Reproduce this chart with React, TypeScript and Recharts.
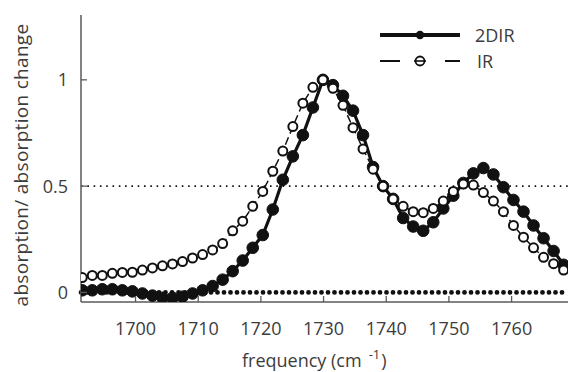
import React from 'react';
import { LineChart, Line, XAxis, YAxis, ReferenceLine, Legend, Label } from 'recharts';

const frequency = [
  1691.5, 1693.1, 1694.7, 1696.3, 1697.9, 1699.5, 1701.1, 1702.7, 1704.3, 1705.9,
  1707.5, 1709.1, 1710.7, 1712.3, 1713.9, 1715.5, 1717.1, 1718.7, 1720.3, 1721.9,
  1723.5, 1725.1, 1726.7, 1728.3, 1729.9, 1731.5, 1733.1, 1734.7, 1736.3, 1737.9,
  1739.5, 1741.1, 1742.7, 1744.3, 1745.9, 1747.5, 1749.1, 1750.7, 1752.3, 1753.9,
  1755.5, 1757.1, 1758.7, 1760.3, 1761.9, 1763.5, 1765.1, 1766.7, 1768.3,
];

const irAbsorption = [
  0.07, 0.08, 0.08, 0.09, 0.094, 0.095, 0.105, 0.115, 0.125, 0.134,
  0.145, 0.162, 0.178, 0.2, 0.23, 0.29, 0.335, 0.405, 0.475, 0.57,
  0.665, 0.78, 0.89, 0.965, 1.0, 0.96, 0.88, 0.775, 0.675, 0.58,
  0.5, 0.44, 0.405, 0.38, 0.375, 0.395, 0.43, 0.475, 0.51, 0.505,
  0.47, 0.43, 0.38, 0.315, 0.26, 0.21, 0.165, 0.135, 0.105,
];

const twoDirSignal = [
  0.01, 0.01, 0.015, 0.015, 0.01, 0.005, -0.005, -0.015, -0.025, -0.025,
  -0.02, -0.005, 0.01, 0.03, 0.06, 0.1, 0.15, 0.21, 0.27, 0.39,
  0.53, 0.64, 0.74, 0.87, 1.0, 0.975, 0.925, 0.855, 0.74, 0.59,
  0.5, 0.44, 0.35, 0.31, 0.29, 0.33, 0.395, 0.455, 0.515, 0.56,
  0.585, 0.555, 0.495, 0.435, 0.38, 0.315, 0.255, 0.195, 0.13,
];

const xTicks = [1700, 1710, 1720, 1730, 1740, 1750, 1760];
const yTicks = [0, 0.5, 1];
const seriesNames = ['2DIR', 'IR'];
const xLabel = 'frequency (cm';
const xLabelSup = '-1';
const yLabel = 'absorption/ absorption change';

const data = frequency.map((f, i) => ({ freq: f, ir: irAbsorption[i], twoDir: twoDirSignal[i] }));

const FONT = '"Open Sans", "DejaVu Sans", sans-serif';
const TEXT = '#3c3c3c';
const AXIS = '#5a5a5a';
const INK = '#111111';

const XTick = (props: any) => {
  const { x, y, payload } = props;
  return (
    <g>
      <line x1={x} x2={x} y1={y} y2={y - 6} stroke={AXIS} strokeWidth={1.3} />
      <text x={x} y={y + 33} textAnchor="middle" fontFamily={FONT} fontSize={18} fill={TEXT}>
        {payload.value}
      </text>
    </g>
  );
};

const YTick = (props: any) => {
  const { x, y, payload } = props;
  return (
    <g>
      <line x1={x} x2={x + 6} y1={y} y2={y} stroke={AXIS} strokeWidth={1.3} />
      <text x={x - 13} y={y + 6.5} textAnchor="end" fontFamily={FONT} fontSize={18} fill={TEXT}>
        {payload.value}
      </text>
    </g>
  );
};

const renderLegend = () => (
  <svg width={200} height={60} style={{ display: 'block' }}>
    <line x1={10} x2={90} y1={15} y2={15} stroke={INK} strokeWidth={4} />
    <circle cx={50} cy={15} r={4.2} fill={INK} />
    <text x={105} y={21.5} fontFamily={FONT} fontSize={18} fill={TEXT}>{seriesNames[0]}</text>
    <line x1={10} x2={30} y1={41} y2={41} stroke={INK} strokeWidth={2} />
    <line x1={75} x2={90} y1={41} y2={41} stroke={INK} strokeWidth={2} />
    <line x1={44} x2={56} y1={41} y2={41} stroke={INK} strokeWidth={1.6} />
    <circle cx={50} cy={41} r={4.5} fill="none" stroke={INK} strokeWidth={1.8} />
    <text x={107} y={47.5} fontFamily={FONT} fontSize={18} fill={TEXT}>{seriesNames[1]}</text>
  </svg>
);

export default function App() {
  return (
    <div style={{ position: 'absolute', left: 0, top: 0, background: '#fff' }}>
      <LineChart width={571} height={372} data={data} margin={{ top: 15, right: 3, bottom: 0, left: 0 }}>
        <XAxis
          dataKey="freq"
          type="number"
          domain={[1691.3, 1769]}
          ticks={xTicks}
          allowDataOverflow
          height={70}
          tickSize={0}
          tickMargin={0}
          tick={<XTick />}
          axisLine={{ stroke: AXIS, strokeWidth: 1.5 }}
          tickLine={false}
        >
          <Label
            content={() => (
              <text x={242} y={367} fontFamily={FONT} fontSize={18} fill={TEXT}>
                {xLabel}
                <tspan dx={7} dy={-8} fontSize={13}>{xLabelSup}</tspan>
                <tspan dx={1} dy={8} fontSize={18}>)</tspan>
              </text>
            )}
          />
        </XAxis>
        <YAxis
          type="number"
          domain={[-0.045, 1.305]}
          ticks={yTicks}
          allowDataOverflow
          width={81}
          tickSize={0}
          tickMargin={0}
          tick={<YTick />}
          axisLine={{ stroke: AXIS, strokeWidth: 1.5 }}
          tickLine={false}
        >
          <Label
            content={() => (
              <text
                transform="rotate(-90)"
                x={-165}
                y={28}
                textAnchor="middle"
                fontFamily={FONT}
                fontSize={19}
                letterSpacing={0.3}
                fill={TEXT}
              >
                {yLabel}
              </text>
            )}
          />
        </YAxis>
        <ReferenceLine y={0.5} stroke={INK} strokeWidth={1.6} strokeDasharray="1.6 4.7" />
        <ReferenceLine y={0} stroke={INK} strokeWidth={4.8} strokeDasharray="0 6.5" strokeLinecap="round" />
        <Line
          dataKey="twoDir"
          name={seriesNames[0]}
          type="linear"
          stroke={INK}
          strokeWidth={3.2}
          dot={{ r: 5.8, fill: INK, stroke: INK, strokeWidth: 1 }}
          isAnimationActive={false}
        />
        <Line
          dataKey="ir"
          name={seriesNames[1]}
          type="linear"
          stroke="none"
          strokeWidth={0}
          dot={{ r: 4.5, fill: '#fff', stroke: INK, strokeWidth: 2 }}
          isAnimationActive={false}
          legendType="none"
        />
        <Line
          dataKey="ir"
          name={seriesNames[1] + ' line'}
          type="linear"
          stroke={INK}
          strokeWidth={1.5}
          strokeDasharray="8 4"
          dot={false}
          isAnimationActive={false}
          legendType="none"
        />
        <Legend
          content={renderLegend}
          layout="vertical"
          align="center"
          verticalAlign="middle"
          wrapperStyle={{ position: 'absolute', left: 370, top: 20, width: 200, height: 60 }}
        />
      </LineChart>
    </div>
  );
}
